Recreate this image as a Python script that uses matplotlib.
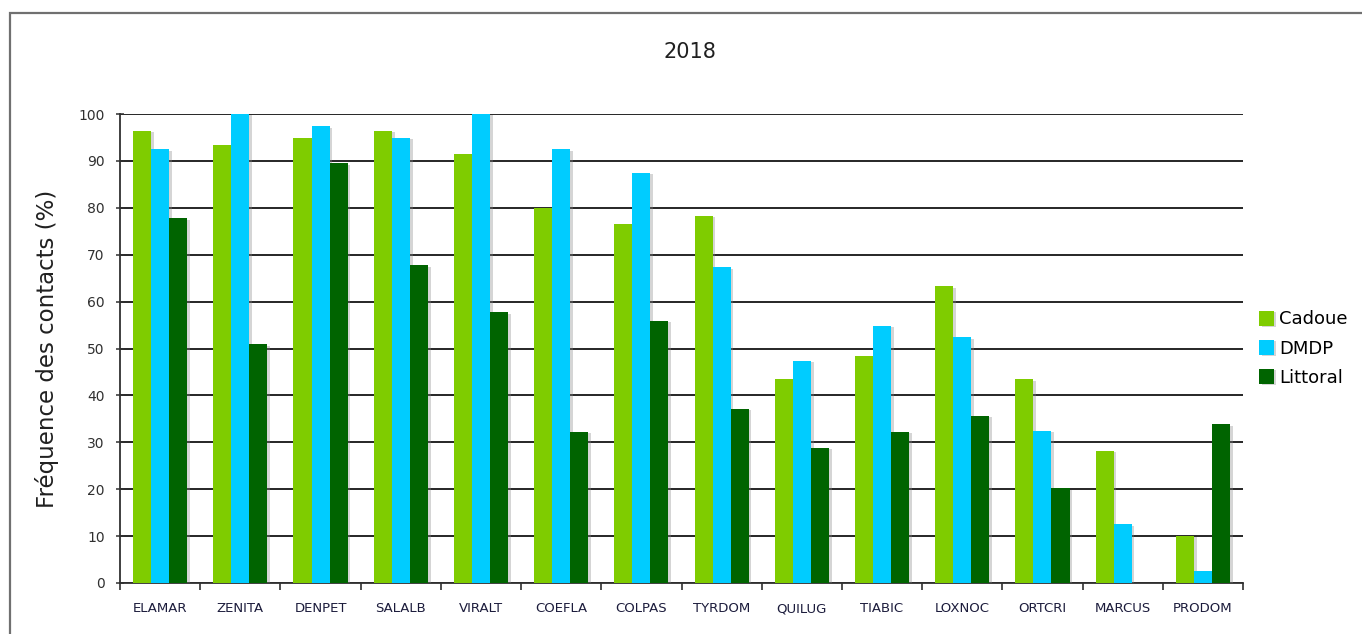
import matplotlib.pyplot as plt
import matplotlib.patheffects as pe
import numpy as np
from matplotlib.patches import Rectangle

especes = ["ELAMAR", "ZENITA", "DENPET", "SALALB", "VIRALT", "COEFLA", "COLPAS",
           "TYRDOM", "QUILUG", "TIABIC", "LOXNOC", "ORTCRI", "MARCUS", "PRODOM"]
cadoue = [96.4, 93.4, 94.9, 96.4, 91.5, 80.0, 76.6, 78.3, 43.4, 48.4, 63.3, 43.4, 28.2, 10.0]
dmdp = [92.5, 100.0, 97.4, 94.9, 100.0, 92.5, 87.5, 67.3, 47.4, 54.9, 52.4, 32.5, 12.5, 2.6]
littoral = [77.8, 50.9, 89.5, 67.7, 57.7, 32.3, 55.9, 37.2, 28.8, 32.3, 35.7, 20.2, 0.0, 33.8]

series = [("Cadoue", cadoue, "#7fcc00"),
          ("DMDP", dmdp, "#00ccff"),
          ("Littoral", littoral, "#006400")]

fig = plt.figure(figsize=(13.62, 6.34), dpi=100)
ax = fig.add_axes([120 / 1362, 51 / 634, 1123 / 1362, 469 / 634])

# cadre gris autour du graphique
fig.patches.append(Rectangle((10 / 1362, -0.1), 1.2, (634 - 13) / 634 + 0.1,
                             transform=fig.transFigure, fill=False,
                             edgecolor="#707070", linewidth=1.6))

x = np.arange(len(especes))
w = 0.225
ombre = [pe.SimplePatchShadow(offset=(2, -1), shadow_rgbFace="#888888", alpha=0.35), pe.Normal()]
for i, (nom, vals, col) in enumerate(series):
    ax.bar(x + (i - 1) * w, vals, w, color=col, label=nom, zorder=3,
           path_effects=ombre)

ax.set_xlim(-0.5, len(especes) - 0.5)
ax.set_ylim(0, 100)
ax.set_yticks(np.arange(0, 101, 10))
ax.yaxis.grid(True, color="#151515", linewidth=1.3, zorder=1)
ax.set_axisbelow(True)

ax.set_xticks(x)
ax.set_xticklabels(especes, fontsize=9.5, color="#1c1c3c")
ax.set_xticks(np.arange(-0.5, len(especes), 1), minor=True)
ax.tick_params(axis="x", which="major", length=0, pad=14)
ax.tick_params(axis="x", which="minor", length=5, width=1.2, color="#303030", direction="out")
ax.tick_params(axis="y", length=6, width=1.1, color="#303030", direction="inout",
               labelsize=10, labelcolor="#303030", pad=8)

for s in ["top", "right"]:
    ax.spines[s].set_visible(False)
for s in ["left", "bottom"]:
    ax.spines[s].set_color("#303030")
    ax.spines[s].set_linewidth(1.3)

ax.set_ylabel("Fréquence des contacts (%)", fontsize=16.5, color="#202020", labelpad=14)
fig.text(690 / 1362, 1 - 52 / 634, "2018", ha="center", va="center", fontsize=15, color="#202020")

ax.legend(loc="center left", bbox_to_anchor=(1.008, 0.50), frameon=False, fontsize=13,
          handlelength=0.8, handleheight=0.9, handletextpad=0.3, labelspacing=0.62,
          borderaxespad=0)

fig.savefig("out.png", dpi=100)
